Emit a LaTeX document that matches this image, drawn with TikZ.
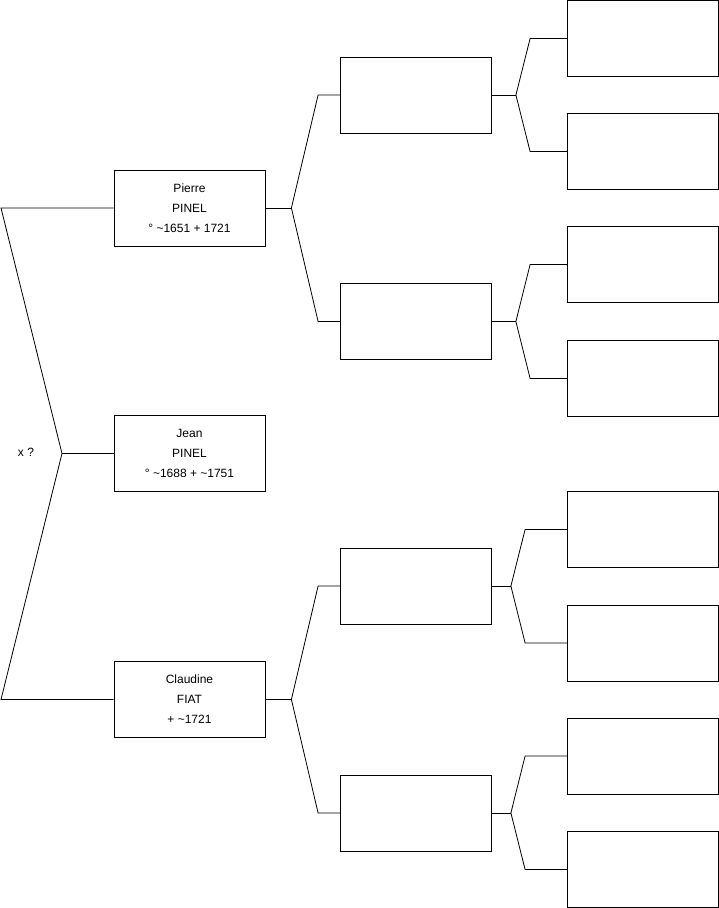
\documentclass[tikz,border=0pt]{standalone}
\usepackage{fontspec}
\setmainfont{Liberation Sans}
\begin{document}
\begin{tikzpicture}[
  x=1pt,
  y=-1pt,
  line join=miter,
  person/.style={draw=black,line width=0.8pt,minimum width=151pt,minimum height=76pt,
    inner sep=0pt,align=center,font=\fontsize{12}{20}\selectfont},
  link/.style={draw=black,line width=0.8pt}
]
  \useasboundingbox (0,0) rectangle (719,908);

  % Known people, numbered in Sosa order.
  \node[person] (n1) at (189.5,453.5) {Jean\\PINEL\\° \textasciitilde1688 + \textasciitilde1751};
  \node[person] (n2) at (189.5,208) {Pierre\\PINEL\\° \textasciitilde1651 + 1721};
  \node[person] (n3) at (189.5,699.5) {Claudine\\FIAT\\+ \textasciitilde1721};

  % Grandparents and great-grandparents are still empty.
  \foreach \n/\y in {4/95,5/321.5,6/586,7/813} {
    \node[person] (n\n) at (416,\y) {};
  }
  \foreach \n/\y in {8/38.5,9/151.5,10/264.5,11/378.5,12/529.5,13/643,14/756,15/869.5} {
    \node[person] (n\n) at (643,\y) {};
  }

  % Parents of Jean, with the marriage mark.
  \coordinate (fork1) at (62,453.5);
  \coordinate (top1) at (1,208);
  \coordinate (bot1) at (1,699.5);
  \draw[link] (n2.west) -- (top1) -- (fork1) -- (bot1) -- (n3.west);
  \draw[link] (n1.west) -- (fork1);
  \node[font=\fontsize{12}{14}\selectfont] (union1) at (26,452) {x ?};

  % Forks towards each pair of parents.
  \foreach \n/\s/\t [evaluate=\n as \a using int(2*\n),
                     evaluate=\n as \b using int(2*\n+1)]
      in {2/26/22,3/26/22,4/24/37,5/24/37,6/19/42,7/19/42} {
    \draw[link] (n\a.west) -- ([xshift=-\t pt]n\a.west) -- ([xshift=\s pt]n\n.east)
      -- ([xshift=-\t pt]n\b.west) -- (n\b.west);
    \draw[link] (n\n.east) -- ([xshift=\s pt]n\n.east);
  }
\end{tikzpicture}
\end{document}
